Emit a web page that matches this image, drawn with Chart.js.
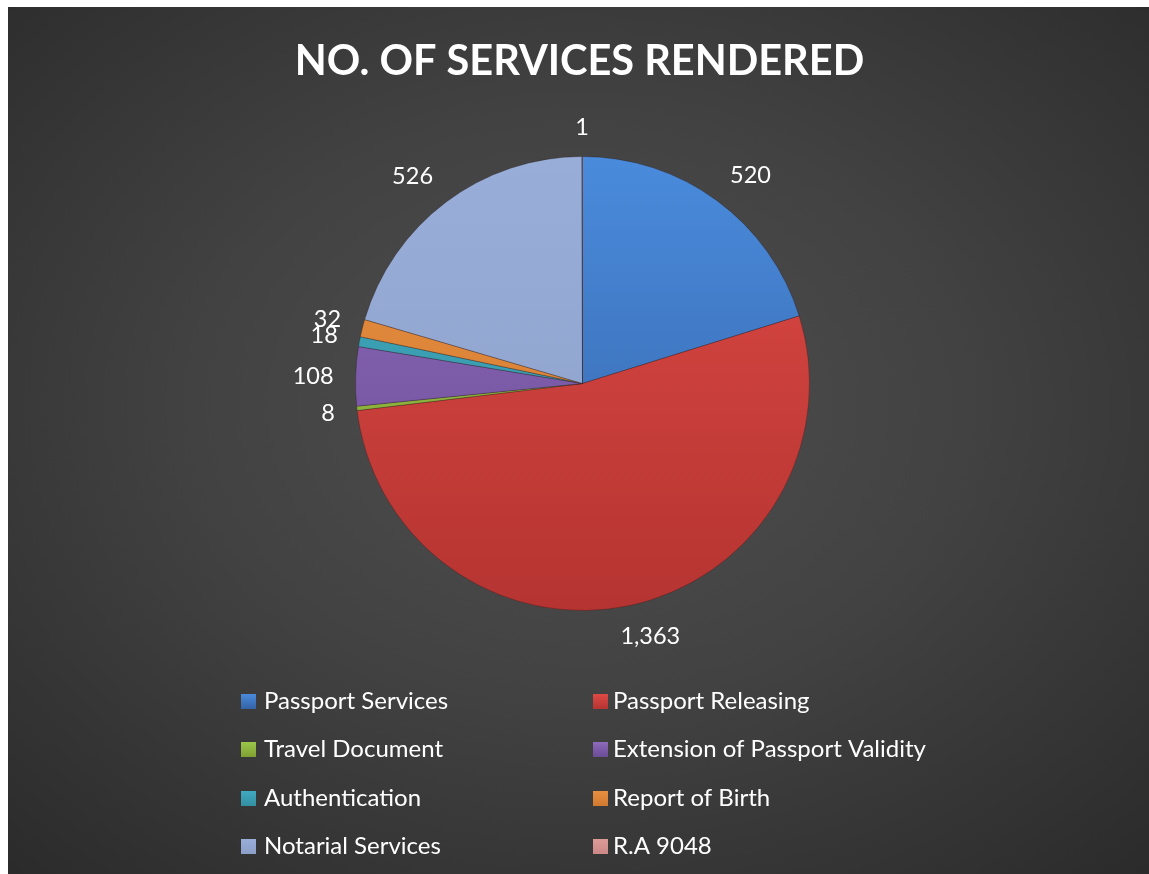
<!DOCTYPE html>
<html>
<head>
<meta charset="utf-8">
<script src="https://cdn.jsdelivr.net/npm/chart.js@4.4.1/dist/chart.umd.min.js"></script>
<style>
  html, body { margin: 0; padding: 0; background: #ffffff; width: 1149px; height: 874px; overflow: hidden; }
  #frame { position: absolute; left: 8px; top: 7px; width: 1141px; height: 867px;
    background: radial-gradient(ellipse 75% 75% at 50% 46%, #4f4f4f 0%, #424242 45%, #2a2a2a 100%); }
  #frame canvas { display: block; }
</style>
</head>
<body>
<div id="frame"><canvas id="c"></canvas></div>
<script>
const titleText = "NO. OF SERVICES RENDERED";
const categories = ["Passport Services", "Passport Releasing", "Travel Document", "Extension of Passport Validity", "Authentication", "Report of Birth", "Notarial Services", "R.A 9048"];
const serviceCounts = [520, 1363, 8, 108, 18, 32, 526, 1];
const topColors = ["#4a8bdc", "#de4a45", "#9cc64a", "#8d6abb", "#40aac0", "#e88e40", "#98aed8", "#dc9a98"];
const bottomColors = ["#3462a6", "#b53431", "#7fa032", "#6a4c96", "#348fa2", "#d07a30", "#8c9fc8", "#cc8886"];

const FONT = "Lato, 'Open Sans', sans-serif";

function sliceGradient(ctx) {
  const chart = ctx.chart;
  const area = chart.chartArea;
  if (!area) return topColors[ctx.dataIndex];
  const g = chart.ctx.createLinearGradient(0, area.top, 0, area.bottom);
  g.addColorStop(0, topColors[ctx.dataIndex]);
  g.addColorStop(1, bottomColors[ctx.dataIndex]);
  return g;
}

const textPlugin = {
  id: 'texts',
  afterDatasetsDraw(chart) {
    const ctx = chart.ctx;
    ctx.save();
    // title
    ctx.fillStyle = '#ffffff';
    ctx.font = "bold 41.5px " + FONT;
    ctx.textAlign = 'center';
    ctx.textBaseline = 'alphabetic';
    ctx.fillText(titleText, chart.width / 2 + 1, 68);

    // data labels
    const meta = chart.getDatasetMeta(0);
    const fs = 23.5;
    ctx.font = fs + "px " + FONT;
    const capH = fs * 0.72;
    const gap = 22;
    meta.data.forEach((arc, i) => {
      const p = arc.getProps(['x', 'y', 'startAngle', 'endAngle', 'outerRadius'], true);
      const mid = (p.startAngle + p.endAngle) / 2;
      const dx = Math.cos(mid), dy = Math.sin(mid);
      const txt = serviceCounts[i].toLocaleString('en-US');
      const w = ctx.measureText(txt).width;
      const r = p.outerRadius + gap;
      const ox = (w / 2) * Math.max(-1, Math.min(1, dx * 2.5));
      const oy = (capH / 2) * Math.max(-1, Math.min(1, dy * 2));
      const cx = p.x + dx * r + ox;
      const cy = p.y + dy * r + oy;
      ctx.textAlign = 'center';
      ctx.fillText(txt, cx, cy + capH / 2);
    });

    // legend (2 columns)
    ctx.font = "24px " + FONT;
    ctx.textAlign = 'left';
    const colBox = [233, 585];
    const colText = [256, 605];
    const baselines = [702, 750, 799, 847];
    categories.forEach((name, i) => {
      const col = i % 2, row = Math.floor(i / 2);
      const by = baselines[row];
      const g = ctx.createLinearGradient(0, by - 15, 0, by);
      g.addColorStop(0, topColors[i]);
      g.addColorStop(1, bottomColors[i]);
      ctx.fillStyle = g;
      ctx.fillRect(colBox[col], by - 15, 15, 15);
      ctx.fillStyle = '#ffffff';
      ctx.fillText(name, colText[col], by);
    });
    ctx.restore();
  }
};

new Chart(document.getElementById('c'), {
  type: 'pie',
  data: {
    labels: categories,
    datasets: [{
      data: serviceCounts,
      backgroundColor: sliceGradient,
      borderColor: 'rgba(40,20,20,0.3)',
      borderWidth: 1
    }]
  },
  options: {
    responsive: true,
    maintainAspectRatio: false,
    animation: false,
    layout: { padding: { left: 347, right: 339, top: 149, bottom: 263 } },
    plugins: {
      legend: { display: false },
      title: { display: false },
      tooltip: { enabled: false }
    }
  },
  plugins: [textPlugin]
});
</script>
</body>
</html>
